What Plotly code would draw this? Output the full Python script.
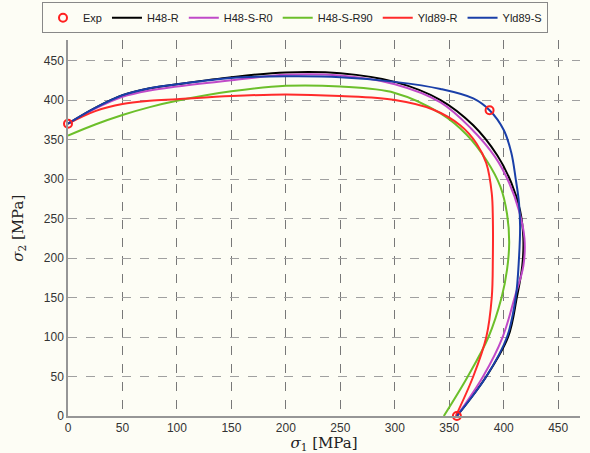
import plotly.graph_objects as go

# Experimental points
exp_s1 = [0, 387, 357]
exp_s2 = [370, 387, 0]

# H48-R (black)
h48r_s1 = [0, 25, 50, 75, 100, 150, 200, 250, 300, 342, 372, 394, 407, 415, 418, 417, 412, 404, 384, 357]
h48r_s2 = [370, 390, 406, 415, 420, 429, 435, 434, 423, 400, 368, 330, 295, 260, 225, 190, 150, 100, 50, 0]

# H48-S-R0 (magenta)
h48s0_s1 = [0, 25, 50, 75, 100, 150, 200, 250, 300, 342, 370, 392, 405, 414, 419, 418, 410, 399, 381, 357]
h48s0_s2 = [370, 389, 404, 412, 417, 425, 432, 431, 420, 397, 364, 328, 295, 260, 225, 190, 150, 100, 50, 0]

# H48-S-R90 (green)
h48s90_s1 = [0, 25, 50, 75, 100, 150, 200, 250, 300, 342, 366, 384, 397, 403, 405, 403, 398, 386, 367, 345]
h48s90_s2 = [355, 369, 381, 391, 399, 411, 418, 417, 409, 383, 356, 324, 290, 256, 220, 185, 150, 100, 50, 0]

# Yld89-R (red)
yldr_s1 = [0, 25, 50, 75, 100, 150, 200, 250, 300, 335, 360, 375, 384, 389, 390, 390, 389, 384, 372, 356]
yldr_s2 = [370, 386, 395, 399, 401, 405, 407, 405, 400, 388, 368, 345, 320, 282, 250, 200, 150, 100, 50, 0]

# Yld89-S (blue)
ylds_s1 = [0, 25, 50, 75, 100, 150, 200, 250, 300, 342, 372, 387, 400, 407, 411, 414, 415, 414, 411, 403, 384, 357]
ylds_s2 = [370, 390, 406, 415, 420, 428, 430, 429, 423, 414, 402, 387, 362, 333, 300, 270, 240, 200, 150, 100, 50, 0]

x_ticks = [0, 50, 100, 150, 200, 250, 300, 350, 400, 450]
y_ticks = [0, 50, 100, 150, 200, 250, 300, 350, 400, 450]

fig = go.Figure()

def curve(x, y, name, color, rank):
    fig.add_trace(go.Scatter(x=x, y=y, mode="lines", name=name,
                             line=dict(color=color, width=2, shape="spline", smoothing=1.0),
                             legendrank=rank))

curve(h48r_s1, h48r_s2, "H48-R", "#000000", 2)
curve(h48s0_s1, h48s0_s2, "H48-S-R0", "#c04ac8", 3)
curve(h48s90_s1, h48s90_s2, "H48-S-R90", "#6cbf2a", 4)
curve(yldr_s1, yldr_s2, "Yld89-R", "#ff2a2a", 5)
curve(ylds_s1, ylds_s2, "Yld89-S", "#1a3fa8", 6)

fig.add_trace(go.Scatter(x=exp_s1, y=exp_s2, mode="markers", name="Exp",
                         marker=dict(symbol="circle-open", size=8, color="#ff2020",
                                     line=dict(width=2, color="#ff2020")),
                         cliponaxis=False, legendrank=1))

bg = "rgb(253,253,245)"
serif = "DejaVu Serif, Liberation Serif, serif"
fig.update_layout(
    width=590, height=453,
    paper_bgcolor=bg, plot_bgcolor=bg,
    margin=dict(l=68, r=10, t=40, b=37),
    font=dict(family="Liberation Sans, Arial, sans-serif", size=12, color="#333333"),
    showlegend=True,
    legend=dict(orientation="h", x=0.5, xanchor="center", xref="container",
                y=0.995, yanchor="top", yref="container",
                bordercolor="#888888", borderwidth=1, bgcolor=bg,
                font=dict(size=11, color="#222222"), itemwidth=30,
                tracegroupgap=0, traceorder="normal"),
    xaxis=dict(range=[0, 470], tickvals=x_ticks, ticktext=[str(v) for v in x_ticks],
               showgrid=True, gridcolor="rgb(120,120,120)", griddash="dash", gridwidth=1,
               showline=True, linecolor="rgb(150,150,150)", linewidth=1.5,
               zeroline=False, ticks="", tickfont=dict(size=12, color="#333333"),
               automargin=False,
               title=dict(text="<i>σ</i><sub>1</sub> [MPa]", standoff=4,
                          font=dict(family=serif, size=15, color="#222222"))),
    yaxis=dict(range=[0, 476], tickvals=y_ticks, ticktext=[str(v) for v in y_ticks],
               showgrid=True, gridcolor="rgb(160,160,160)", griddash="dash", gridwidth=1,
               showline=True, linecolor="rgb(150,150,150)", linewidth=1.5,
               zeroline=False, ticks="", tickfont=dict(size=12, color="#333333"),
               automargin=False),
    annotations=[dict(text="<i>σ</i><sub>2</sub> [MPa]", xref="paper", yref="paper",
                      x=-0.098, y=0.5, xanchor="center", yanchor="middle", textangle=-90,
                      showarrow=False, font=dict(family=serif, size=15, color="#222222"))],
)

fig.write_html("out.html")
